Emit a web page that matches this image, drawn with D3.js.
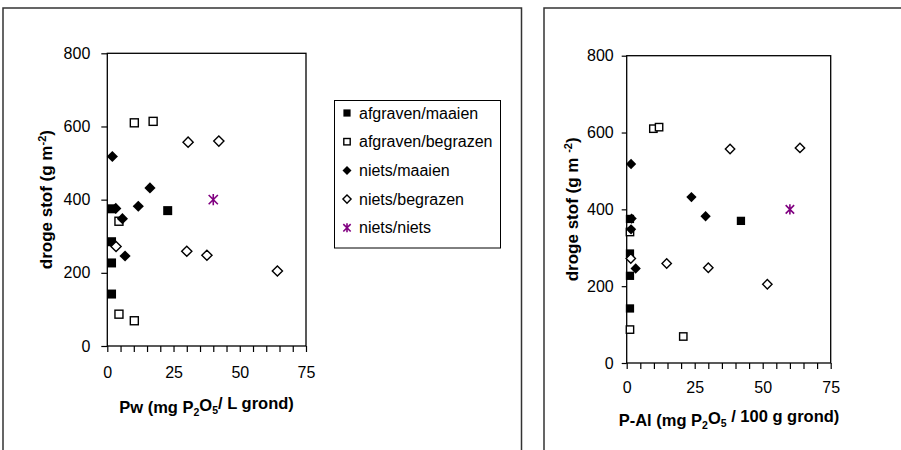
<!DOCTYPE html>
<html><head><meta charset="utf-8">
<script src="https://cdn.jsdelivr.net/npm/d3@7/dist/d3.min.js"></script>
<style>
body{margin:0;background:#fff;}
svg{display:block;font-family:"Liberation Sans",Arial,sans-serif;}
</style></head>
<body>
<svg id="c" width="901" height="450"></svg>
<script>
// ---- data ----
const seriesNames = ["afgraven/maaien","afgraven/begrazen","niets/maaien","niets/begrazen","niets/niets"];
const xTicksLabels = [0,25,50,75];
const yTicksLabels = [0,200,400,600,800];

const afgravenMaaienY   = [375, 285, 227, 142, 370];
const afgravenMaaienPw  = [1.6, 1.6, 1.6, 1.6, 22.8];
const afgravenMaaienPAl = [1.2, 1.2, 1.2, 1.2, 42.0];

const afgravenBegrazenY   = [610, 614, 341, 87, 69];
const afgravenBegrazenPw  = [10.2, 17.3, 4.4, 4.4, 10.2];
const afgravenBegrazenPAl = [9.8, 11.9, 1.2, 1.2, 20.8];

const nietsMaaienY   = [518, 376, 348, 246, 382, 432];
const nietsMaaienPw  = [1.9, 3.2, 5.7, 6.7, 11.7, 16.1];
const nietsMaaienPAl = [1.6, 1.8, 1.6, 3.3, 29.0, 23.8];

const nietsBegrazenY   = [557, 560, 272, 259, 248, 205];
const nietsBegrazenPw  = [30.5, 42.1, 3.3, 30.0, 37.6, 64.2];
const nietsBegrazenPAl = [38.0, 63.7, 1.5, 14.7, 30.0, 51.7];

const nietsNietsY   = [400];
const nietsNietsPw  = [40];
const nietsNietsPAl = [60];

const svg = d3.select("#c");

// panel borders
svg.append("path").attr("d","M3,452V8H521.5V452").attr("fill","none").attr("stroke","#333").attr("stroke-width",1.5);
svg.append("path").attr("d","M544,452V8H903").attr("fill","none").attr("stroke","#333").attr("stroke-width",1.5);

function marker(sel, type, s){
  if(type===0){ // filled square
    sel.append("rect").attr("x",-4.5*s).attr("y",-4.5*s).attr("width",9*s).attr("height",9*s).attr("fill","#000");
  } else if(type===1){ // open square
    sel.append("rect").attr("x",-4*s).attr("y",-4*s).attr("width",8*s).attr("height",8*s).attr("fill","#fff").attr("stroke","#000").attr("stroke-width",1.4);
  } else if(type===2){ // filled diamond
    const r=5.6*s; sel.append("path").attr("d",`M0,${-r}L${r},0L0,${r}L${-r},0Z`).attr("fill","#000");
  } else if(type===3){ // open diamond
    const r=5.1*s; sel.append("path").attr("d",`M0,${-r}L${r},0L0,${r}L${-r},0Z`).attr("fill","#fff").attr("stroke","#000").attr("stroke-width",1.4);
  } else { // star
    const a=4.6*s, b=5.6*s;
    sel.append("path").attr("d",`M${-a},${-a}L${a},${a}M${-a},${a}L${a},${-a}M0,${-b}L0,${b}`).attr("fill","none").attr("stroke","#800080").attr("stroke-width",1.6);
  }
}

function chart(cfg){
  const x = d3.scaleLinear().domain([0,75]).range([cfg.x0,cfg.x1]);
  const y = d3.scaleLinear().domain([0,800]).range([cfg.y0,cfg.y1]);
  const g = svg.append("g");
  g.append("rect").attr("x",cfg.x0).attr("y",cfg.y1).attr("width",cfg.x1-cfg.x0).attr("height",cfg.y0-cfg.y1)
    .attr("fill","none").attr("stroke","#000").attr("stroke-width",1.3);
  const xa = d3.axisBottom(x).tickValues(d3.range(0,76,5)).tickSize(6).tickPadding(cfg.xpad)
     .tickFormat(d => xTicksLabels.includes(d) ? d : "");
  const gx = g.append("g").attr("transform",`translate(0,${cfg.y0})`).call(xa);
  const ya = d3.axisLeft(y).tickValues(yTicksLabels).tickSize(cfg.ytick).tickPadding(cfg.ypad);
  const gy = g.append("g").attr("transform",`translate(${cfg.x0},0)`).call(ya);
  [gx,gy].forEach(a=>{
    a.select(".domain").remove();
    a.selectAll("line").attr("stroke","#000").attr("stroke-width",1.2);
    a.selectAll("text").attr("font-size","16px").attr("fill","#000").attr("font-family","Liberation Sans, Arial, sans-serif");
  });
  const series = [
    [afgravenMaaienY, cfg.xs[0]], [afgravenBegrazenY, cfg.xs[1]], [nietsMaaienY, cfg.xs[2]],
    [nietsBegrazenY, cfg.xs[3]], [nietsNietsY, cfg.xs[4]]
  ];
  series.forEach((s,i)=>{
    s[0].forEach((v,j)=>{
      const m = g.append("g").attr("transform",`translate(${x(s[1][j])},${y(v)})`);
      marker(m,i,cfg.ms);
    });
  });
  const yl = g.append("text").attr("transform",`translate(${cfg.ylx},${(cfg.y0+cfg.y1)/2}) rotate(-90)`)
    .attr("text-anchor","middle").attr("dy","0.36em").attr("font-weight","bold").attr("font-size","17px");
  yl.append("tspan").text(cfg.ylabelA);
  yl.append("tspan").attr("font-size","11px").attr("dy","-0.6em").text("-2");
  yl.append("tspan").attr("dy","0.39em").attr("font-size","17px").text(")");
  const xl = g.append("text").attr("x",cfg.xlx).attr("y",cfg.xly).attr("text-anchor","middle")
    .attr("font-weight","bold").attr("font-size","16.5px");
  xl.append("tspan").text(cfg.xlabel[0]);
  xl.append("tspan").attr("font-size","10.5px").attr("dy","0.3em").text("2");
  xl.append("tspan").attr("dy","-0.3em").attr("font-size","16.5px").text("O");
  xl.append("tspan").attr("font-size","10.5px").attr("dy","0.3em").text("5");
  xl.append("tspan").attr("dy","-0.3em").attr("font-size","16.5px").text(cfg.xlabel[1]);
}

chart({x0:107.3,x1:306,y0:346,y1:53.3,xpad:15,ytick:6,ypad:11,ms:1,
  xs:[afgravenMaaienPw,afgravenBegrazenPw,nietsMaaienPw,nietsBegrazenPw,nietsNietsPw],
  ylx:46, ylabelA:"droge stof (g m", xlx:206.5, xly:413, xlabel:["Pw (mg P","/ L grond)"]});
chart({x0:626.7,x1:830.7,y0:363,y1:55.7,xpad:13,ytick:5,ypad:8,ms:0.92,
  xs:[afgravenMaaienPAl,afgravenBegrazenPAl,nietsMaaienPAl,nietsBegrazenPAl,nietsNietsPAl],
  ylx:572, ylabelA:"droge stof (g m ", xlx:729, xly:426, xlabel:["P-Al (mg P"," / 100 g grond)"]});

// legend
const lg = svg.append("g");
lg.append("rect").attr("x",334.5).attr("y",100.5).attr("width",166).attr("height",147.5).attr("fill","#fff").attr("stroke","#000").attr("stroke-width",1);
seriesNames.forEach((n,i)=>{
  const yy = 113 + i*28.7;
  const m = lg.append("g").attr("transform",`translate(347,${yy})`);
  marker(m,i,0.8);
  lg.append("text").attr("x",359).attr("y",yy).attr("dy","0.35em").attr("font-size","16px").attr("fill","#000").text(n);
});
</script>
</body></html>
